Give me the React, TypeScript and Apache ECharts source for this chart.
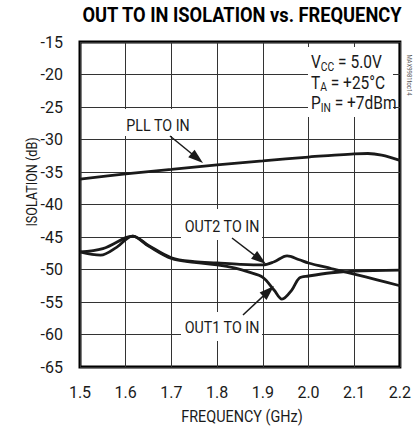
import React, { useEffect, useRef } from "react";
import * as echarts from "echarts";

// ---- data ----
const freqPLL = [1.5, 1.6, 1.7, 1.8, 1.9, 2.0, 2.05, 2.1, 2.13, 2.16, 2.2];
const pllToIn = [-36.1, -35.3, -34.6, -33.9, -33.3, -32.7, -32.45, -32.2, -32.15, -32.4, -33.2];

const freqOut2 = [1.5, 1.55, 1.6, 1.615, 1.65, 1.7, 1.75, 1.8, 1.85, 1.9, 1.925, 1.953, 1.98, 2.0, 2.05, 2.1, 2.15, 2.2];
const out2ToIn = [-47.3, -46.8, -45.1, -44.85, -46.3, -48.2, -48.8, -49.0, -49.2, -49.3, -48.8, -47.9, -48.5, -49.0, -49.85, -50.7, -51.6, -52.5];

const freqOut1 = [1.5, 1.545, 1.58, 1.615, 1.65, 1.7, 1.75, 1.8, 1.84, 1.87, 1.9, 1.925, 1.942, 1.963, 1.98, 2.0, 2.05, 2.1, 2.2];
const out1ToIn = [-47.3, -47.8, -46.6, -44.85, -46.4, -48.3, -48.9, -49.3, -49.8, -50.4, -51.2, -53.2, -54.55, -53.2, -51.3, -51.0, -50.5, -50.25, -50.1];

const xMin = 1.5;
const xMax = 2.2;
const xStep = 0.1;
const yMin = -65;
const yMax = -15;
const yStep = 5;

const titleText = "OUT TO IN ISOLATION vs. FREQUENCY";
const xName = "FREQUENCY (GHz)";
const yName = "ISOLATION (dB)";
const conditionLines = [
  ["V", "CC", " = 5.0V"],
  ["T", "A", " = +25°C"],
  ["P", "IN", " = +7dBm"],
];

const FONT = "Roboto, 'Liberation Sans', Arial, sans-serif";
const INK = "#1a1a1a";
const SQ = 0.84; // horizontal squeeze to mimic a condensed face

const zip = (xs: number[], ys: number[]) => xs.map((x, i) => [x, ys[i]]);

function arrow(x1: number, y1: number, x2: number, y2: number) {
  const dx = x2 - x1;
  const dy = y2 - y1;
  const len = Math.sqrt(dx * dx + dy * dy);
  const ux = dx / len;
  const uy = dy / len;
  const nx = -uy;
  const ny = ux;
  const L = 15;
  const W = 5;
  const bx = x2 - ux * L;
  const by = y2 - uy * L;
  return [
    {
      type: "line",
      z: 10,
      shape: { x1, y1, x2: bx + ux * 2, y2: by + uy * 2 },
      style: { stroke: INK, lineWidth: 1.5 },
    },
    {
      type: "polygon",
      z: 10,
      shape: {
        points: [
          [x2, y2],
          [bx + nx * W, by + ny * W],
          [bx - nx * W, by - ny * W],
        ],
      },
      style: { fill: INK },
    },
  ];
}

function whiteBox(x: number, y: number, w: number, h: number) {
  return { type: "rect", z: 1, shape: { x, y, width: w, height: h }, style: { fill: "#fff" } };
}

function label(text: string, x: number, y: number, size = 17, extra: any = {}) {
  return {
    type: "text",
    z: 5,
    x,
    y,
    scaleX: SQ,
    ...extra,
    style: {
      text,
      font: `${size}px ${FONT}`,
      fill: INK,
      textAlign: "center",
      textVerticalAlign: "middle",
    },
  };
}

export default function App() {
  const ref = useRef<HTMLDivElement>(null);

  useEffect(() => {
    if (!ref.current) return;
    const chart = echarts.init(ref.current, undefined, { renderer: "svg" });

    const lineSeries = (name: string, data: number[][]) => ({
      name,
      type: "line",
      data,
      smooth: 0.35,
      symbol: "none",
      lineStyle: { color: INK, width: 2.8 },
      z: 3,
    });

    const condTexts = conditionLines.map((parts, i) => ({
      type: "text",
      z: 5,
      x: 311,
      y: 53 + i * 20.5,
      scaleX: 0.86,
      style: {
        text: `{m|${parts[0]}}{s|${parts[1]}}{m|${parts[2]}}`,
        fill: INK,
        rich: {
          m: { fontSize: 18, fontFamily: FONT, lineHeight: 20, verticalAlign: "top", fill: INK },
          s: { fontSize: 12, fontFamily: FONT, lineHeight: 20, verticalAlign: "bottom", fill: INK, padding: [6, 0, 0, 0] },
        },
      },
    }));

    chart.setOption({
      animation: false,
      backgroundColor: "#fff",
      grid: {
        left: 80,
        top: 42,
        width: 325,
        height: 325,
        show: true,
        borderColor: "#000",
        borderWidth: 3,
        backgroundColor: "transparent",
      },
      xAxis: {
        type: "value",
        min: xMin,
        max: xMax,
        interval: xStep,
        axisLine: { show: false },
        axisTick: { show: false },
        splitLine: { show: true, lineStyle: { color: "#333", width: 1 } },
        axisLabel: {
          margin: 17,
          fontSize: 16,
          fontFamily: FONT,
          color: INK,
          formatter: (v: number) => v.toFixed(1),
        },
      },
      yAxis: {
        type: "value",
        min: yMin,
        max: yMax,
        interval: yStep,
        axisLine: { show: false },
        axisTick: { show: false },
        splitLine: { show: true, lineStyle: { color: "#333", width: 1 } },
        axisLabel: {
          margin: 17,
          fontSize: 16,
          fontFamily: FONT,
          color: INK,
        },
      },
      series: [
        lineSeries("PLL TO IN", zip(freqPLL, pllToIn)),
        lineSeries("OUT2 TO IN", zip(freqOut2, out2ToIn)),
        lineSeries("OUT1 TO IN", zip(freqOut1, out1ToIn)),
      ],
      graphic: [
        {
          type: "text",
          x: 242,
          y: 15,
          scaleX: 0.87,
          style: {
            text: titleText,
            font: `bold 21px ${FONT}`,
            fill: "#000",
            textAlign: "center",
            textVerticalAlign: "middle",
          },
        },
        label(yName, 32, 182, 15, { rotation: Math.PI / 2 }),
        label(xName, 242, 417, 16, { scaleX: 0.9 }),
        {
          type: "text",
          x: 409,
          y: 75,
          rotation: -Math.PI / 2,
          scaleX: 0.85,
          style: {
            text: "MAX9981toc14",
            font: `7px ${FONT}`,
            fill: "#555",
            textAlign: "center",
            textVerticalAlign: "middle",
          },
        },
        whiteBox(308, 47, 85, 70),
        ...condTexts,
        whiteBox(122, 109, 73, 27),
        label("PLL TO IN", 158, 125, 17),
        ...arrow(170, 136, 203, 163),
        whiteBox(181, 209, 81, 31),
        label("OUT2 TO IN", 222, 226, 17),
        ...arrow(232, 238, 266, 264),
        whiteBox(181, 312, 81, 29),
        label("OUT1 TO IN", 222, 327, 17),
        ...arrow(243, 315, 274, 286),
      ],
    });

    return () => chart.dispose();
  }, []);

  return (
    <div
      ref={ref}
      style={{ position: "absolute", left: 0, top: 0, width: 414, height: 431 }}
    />
  );
}
